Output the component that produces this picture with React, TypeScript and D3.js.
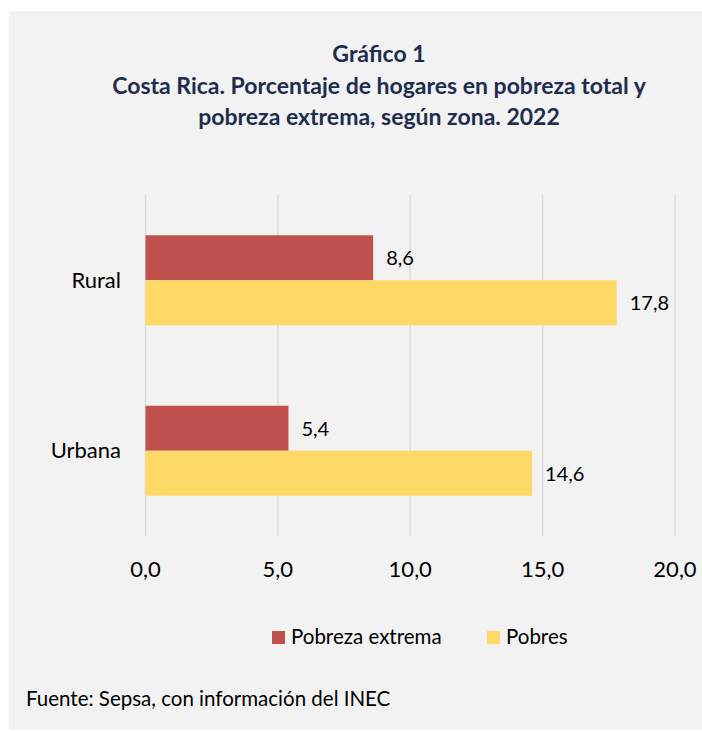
import React from "react";
import * as d3 from "d3";

const categories = ["Rural", "Urbana"];
const seriesNames = ["Pobreza extrema", "Pobres"];
const extrema = [8.6, 5.4];
const pobres = [17.8, 14.6];
const xTicks = [0, 5, 10, 15, 20];
const titleLines = [
  "Gráfico 1",
  "Costa Rica. Porcentaje de hogares en pobreza total y",
  "pobreza extrema, según zona. 2022",
];
const source = "Fuente: Sepsa, con información del INEC";

const colors = ["#C0504D", "#FFD966"];
const FONT = "Lato, 'Open Sans', sans-serif";

export default function App() {
  const W = 702;
  const H = 731;
  const x = d3.scaleLinear().domain([0, 20]).range([145.5, 675]);
  const y = d3.scaleBand().domain(categories).range([195, 536]).paddingInner(0).paddingOuter(0);
  const barH = 45;
  const fmt = (v: number) => d3.format(".1f")(v).replace(".", ",");
  const series = [extrema, pobres];

  return (
    <svg
      width={W}
      height={H}
      style={{ position: "absolute", left: 0, top: 0 }}
      fontFamily={FONT}
    >
      <rect x={0} y={0} width={W} height={H} fill="#ffffff" />
      <rect x={9} y={11} width={W - 9} height={H - 11 - 1} fill="#F2F2F2" />
      {titleLines.map((t, i) => (
        <text
          key={i}
          x={379}
          y={62 + i * 31.5}
          textAnchor="middle"
          fontWeight="bold"
          fontSize={23}
          fill="#1F2D4D"
        >
          {t}
        </text>
      ))}
      {xTicks.map((t) => (
        <g key={t}>
          <line x1={x(t)} x2={x(t)} y1={195} y2={536} stroke="#D9D9D9" strokeWidth={1.3} />
          <text x={x(t)} y={577} textAnchor="middle" fontSize={22} fill="#000">
            {fmt(t)}
          </text>
        </g>
      ))}
      {categories.map((c, ci) => {
        const cy = (y(c) as number) + y.bandwidth() / 2;
        return (
          <g key={c}>
            <text x={121} y={cy + 7.5} textAnchor="end" fontSize={22} fill="#000">
              {c}
            </text>
            {series.map((s, si) => {
              const top = cy - barH + si * barH;
              return (
                <g key={si}>
                  <rect x={x(0)} y={top} width={x(s[ci]) - x(0)} height={barH} fill={colors[si]} />
                  <text x={x(s[ci]) + 13} y={top + barH / 2 + 7.5} fontSize={20} fill="#000">
                    {fmt(s[ci])}
                  </text>
                </g>
              );
            })}
          </g>
        );
      })}
      {seriesNames.map((n, i) => {
        const lx = i === 0 ? 272 : 487;
        return (
          <g key={n}>
            <rect x={lx} y={631} width={13} height={13} fill={colors[i]} />
            <text x={lx + 19} y={644} fontSize={20.5} fill="#000">
              {n}
            </text>
          </g>
        );
      })}
      <text x={26} y={706} fontSize={20.5} fill="#000">
        {source}
      </text>
    </svg>
  );
}
